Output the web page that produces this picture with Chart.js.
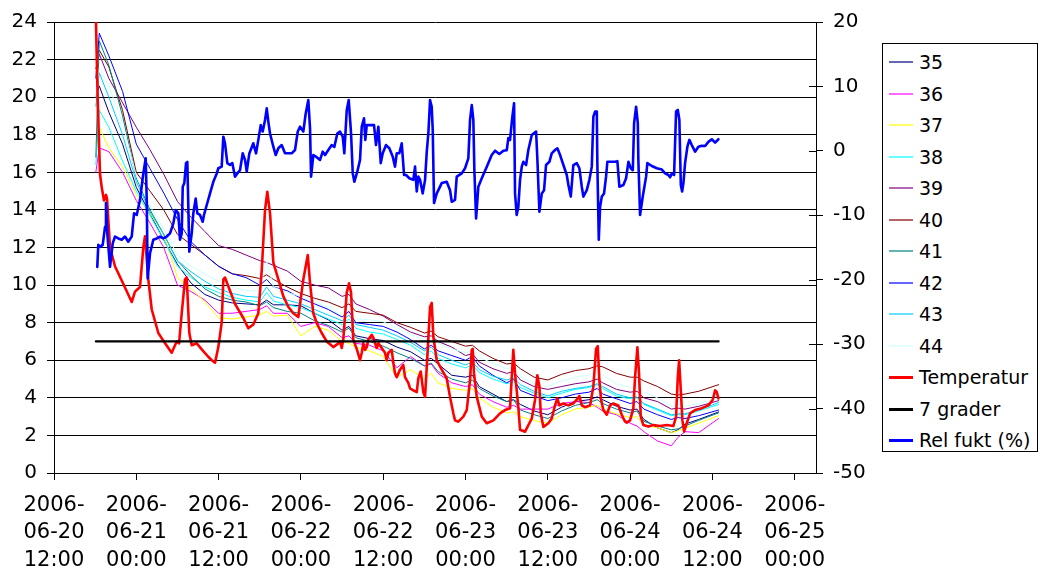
<!DOCTYPE html>
<html>
<head>
<meta charset="utf-8">
<script src="https://cdn.jsdelivr.net/npm/chart.js@4.4.1/dist/chart.umd.min.js"></script>
<style>
html,body{margin:0;padding:0;background:#fff;}
#wrap{position:relative;width:1040px;height:576px;overflow:hidden;}
#c{position:absolute;left:0;top:0;}
#legend{position:absolute;left:882px;top:43px;width:156px;height:409px;border:1px solid #000;box-sizing:border-box;background:#fff;font-family:'DejaVu Sans',sans-serif;font-size:19px;color:#000;}
.sw{position:absolute;left:6px;width:24px;height:2px;}
.lb{position:absolute;left:36px;white-space:nowrap;line-height:22px;height:22px;}
</style>
</head>
<body>
<div id="wrap">
<canvas id="c" width="1040" height="576"></canvas>
<div id="legend"></div>
</div>
<script>
// ---- categories / tick labels ----
const xTickHours = [0, 12, 24, 36, 48, 60, 72, 84, 96, 108];
const xTickLabels = [
  ['2006-', '06-20', '12:00'], ['2006-', '06-21', '00:00'], ['2006-', '06-21', '12:00'],
  ['2006-', '06-22', '00:00'], ['2006-', '06-22', '12:00'], ['2006-', '06-23', '00:00'],
  ['2006-', '06-23', '12:00'], ['2006-', '06-24', '00:00'], ['2006-', '06-24', '12:00'],
  ['2006-', '06-25', '00:00']
];
const seriesNames = ['35', '36', '37', '38', '39', '40', '41', '42', '43', '44', 'Temperatur', '7 grader', 'Rel fukt (%)'];
const seriesColors = ['#000080', '#FF00FF', '#FFFF00', '#00FFFF', '#800080', '#800000', '#008080', '#0000FF', '#00CCFF', '#CCFFFF', '#FF0000', '#000000', '#0000FF'];

// hours after 2006-06-20 12:00
const sensorHours = [6.1, 6.6, 8, 10, 12, 14, 16, 18, 20, 22, 24, 26, 28, 30, 31, 32, 34, 36, 38, 40, 42, 43, 44, 46, 48, 50, 52, 54, 55, 56, 58, 60, 61, 62, 64, 66, 67, 68, 70, 72, 74, 76, 78, 79.2, 80, 82, 84, 85, 86, 88, 90, 91, 92, 94, 96.9];

const s35 = [20.0, 20.6, 19.2, 17.5, 15.2, 13.8, 12.4, 11.1, 10.1, 9.5, 9.2, 9.05, 9.0, 8.95, 9.2, 8.95, 8.95, 8.9, 8.5, 8.15, 7.6, 7.8, 7.3, 7.15, 7.05, 6.7, 6.45, 6.0, 6.1, 5.8, 5.2, 5.1, 5.2, 4.6, 4.2, 3.8, 3.9, 3.65, 3.3, 3.1, 3.5, 3.8, 3.9, 4.05, 3.9, 3.55, 3.35, 3.4, 2.85, 2.4, 2.15, 2.3, 2.6, 2.85, 3.25];
const s36 = [16.0, 17.3, 17.1, 16.0, 14.5, 13.3, 12.0, 10.0, 9.65, 9.2, 8.5, 8.5, 8.6, 8.7, 8.9, 8.5, 8.5, 7.8, 8.0, 7.8, 7.2, 7.3, 6.9, 6.8, 6.5, 5.6, 6.2, 5.7, 5.8, 5.3, 4.8, 4.6, 4.7, 4.2, 3.8, 3.5, 3.6, 3.4, 3.4, 3.4, 3.7, 3.8, 3.75, 3.5, 3.3, 3.1, 2.65, 2.5, 2.2, 1.7, 1.45, 1.9, 2.2, 2.15, 2.9];
const s37 = [17.5, 18.4, 17.3, 16.3, 14.8, 13.8, 12.7, 10.4, 9.8, 9.1, 8.25, 8.2, 8.3, 8.4, 8.6, 8.35, 8.4, 7.3, 7.8, 7.6, 7.0, 6.9, 6.7, 6.5, 6.2, 5.1, 5.5, 5.0, 5.3, 4.8, 4.5, 4.4, 4.5, 4.0, 3.5, 3.2, 3.25, 3.0, 2.8, 2.65, 3.1, 3.4, 3.5, 3.6, 3.4, 3.15, 2.95, 3.0, 2.55, 2.4, 2.15, 2.25, 2.4, 2.65, 3.05];
const s38 = [16.4, 19.3, 18.4, 16.6, 15.0, 13.7, 12.4, 11.0, 10.4, 9.9, 9.6, 9.35, 9.2, 9.1, 9.6, 9.15, 8.95, 8.8, 8.5, 8.2, 7.9, 8.2, 7.7, 7.5, 7.4, 7.1, 6.8, 6.3, 6.5, 6.1, 5.8, 5.6, 5.75, 5.35, 5.0, 4.75, 4.85, 4.55, 4.25, 4.0, 4.25, 4.45, 4.55, 4.7, 4.5, 4.1, 3.95, 4.0, 3.65, 3.35, 3.05, 3.1, 3.1, 3.3, 3.65];
const s39 = [21.5, 22.3, 21.0, 19.7, 18.4, 17.2, 15.9, 14.45, 13.6, 12.85, 12.1, 11.9, 11.6, 11.3, 11.2, 11.05, 10.75, 10.2, 10.0, 9.85, 9.4, 9.5, 9.0, 8.7, 8.35, 7.9, 7.5, 7.25, 7.3, 7.0, 6.7, 6.25, 6.35, 5.9, 5.55, 5.3, 5.4, 4.95, 4.6, 4.45, 4.6, 4.75, 4.85, 5.0, 4.8, 4.45, 4.3, 4.35, 4.0, 3.8, 3.4, 3.45, 3.4, 3.55, 3.85];
const s40 = [22.0, 22.5, 21.6, 19.3, 16.0, 15.0, 14.0, 12.7, 12.15, 11.6, 11.0, 10.6, 10.5, 10.35, 10.55, 10.3, 9.9, 9.55, 9.3, 9.1, 8.8, 9.0, 8.6, 8.5, 8.4, 8.0, 7.75, 7.45, 7.55, 7.25, 7.0, 6.75, 6.8, 6.5, 6.1, 5.8, 5.85, 5.55, 5.1, 4.95, 5.25, 5.45, 5.55, 5.7, 5.65, 5.3, 5.1, 5.1, 4.9, 4.6, 4.2, 4.15, 4.2, 4.35, 4.7];
const s41 = [16.8, 23.0, 21.7, 19.0, 15.7, 14.0, 12.7, 11.3, 10.5, 9.8, 9.4, 9.2, 9.1, 8.9, 9.1, 8.8, 8.6, 8.5, 8.1, 7.85, 7.5, 7.7, 7.2, 7.0, 6.75, 6.4, 6.1, 5.7, 5.85, 5.4, 5.0, 4.8, 4.95, 4.5, 4.1, 3.8, 3.9, 3.35, 3.1, 2.9, 3.3, 3.6, 3.75, 3.9, 3.7, 3.4, 3.2, 3.3, 2.75, 2.5, 2.3, 2.35, 2.5, 2.8, 3.2];
const s42 = [21.0, 23.4, 22.2, 20.3, 17.5, 16.2, 14.9, 13.5, 12.3, 11.6, 11.0, 10.6, 10.4, 10.0, 10.3, 9.9, 9.7, 9.3, 9.0, 8.7, 8.3, 8.6, 8.0, 7.9, 7.8, 7.5, 7.1, 6.6, 6.8, 6.5, 6.25, 6.0, 6.2, 5.7, 5.2, 4.8, 5.0, 4.4, 4.1, 3.85, 4.0, 4.2, 4.3, 4.5, 4.2, 3.95, 3.7, 3.8, 3.4, 3.1, 2.85, 2.95, 2.9, 3.05, 3.35];
const s43 = [19.5, 21.3, 20.0, 18.0, 15.5, 13.9, 12.7, 11.3, 10.7, 10.2, 9.8, 9.55, 9.4, 9.35, 9.9, 9.4, 9.2, 9.0, 8.7, 8.4, 8.1, 8.4, 7.9, 7.75, 7.6, 7.3, 6.95, 6.5, 6.7, 6.3, 6.0, 5.75, 5.9, 5.5, 5.15, 4.95, 5.05, 4.7, 4.35, 4.1, 4.35, 4.5, 4.6, 4.75, 4.6, 4.2, 4.0, 4.05, 3.7, 3.4, 3.1, 3.15, 3.15, 3.35, 3.75];
const s44 = [20.0, 21.6, 20.6, 18.6, 15.8, 14.2, 13.0, 11.6, 11.0, 10.6, 10.2, 9.9, 9.7, 9.7, 11.3, 9.9, 9.6, 9.4, 9.1, 8.8, 8.4, 8.9, 8.2, 8.15, 8.05, 7.7, 7.4, 7.05, 7.2, 6.9, 6.6, 6.4, 6.5, 6.15, 5.85, 5.55, 5.65, 5.1, 4.75, 4.6, 4.9, 5.1, 5.2, 5.3, 5.2, 4.75, 4.55, 4.6, 4.3, 4.0, 3.55, 3.6, 3.55, 3.7, 3.95];

const tempHours = [6.12, 6.37, 6.71, 6.96, 7.29, 7.58, 7.73, 8.17, 8.89, 10.06,
  11.33, 11.81, 12.54, 13.02, 13.27, 13.75, 14.25, 15.21, 16.19, 17.16,
  17.89, 18.23, 18.62, 19.1, 19.35, 19.73, 20.08, 20.81, 21.73, 22.46,
  23.0, 23.48, 23.96, 24.45, 24.69, 24.93, 25.66, 26.39, 27.6, 28.33,
  29.06, 29.79, 30.29, 30.77, 31.1, 31.5, 31.98, 32.71, 33.44, 34.16,
  34.89, 35.62, 36.35, 37.0, 37.33, 37.81, 38.31, 39.03, 39.76, 40.73,
  41.46, 41.7, 41.95, 42.18, 42.68, 43.02, 43.31, 43.64, 44.14, 44.62,
  44.87, 45.1, 45.35, 45.6, 45.83, 46.33, 46.56, 47.05, 47.29, 47.78,
  48.26, 48.51, 48.75, 49.24, 49.48, 49.72, 49.97, 50.45, 50.93, 51.18,
  51.66, 51.91, 52.39, 52.89, 53.12, 53.47, 53.85, 54.1, 54.49, 54.83,
  55.07, 55.31, 55.8, 56.53, 57.26, 57.74, 58.23, 58.47, 58.95, 59.68,
  60.18, 60.66, 60.91, 61.05, 61.24, 61.64, 62.37, 63.09, 64.06, 65.03,
  65.76, 66.49, 66.74, 66.97, 67.22, 67.7, 67.95, 68.68, 69.66, 70.14,
  70.47, 70.77, 70.97, 71.35, 72.08, 72.57, 73.05, 73.39, 73.68, 74.27,
  74.99, 75.72, 76.22, 76.6, 76.95, 77.43, 78.16, 78.64, 79.03, 79.28,
  79.51, 79.76, 80.1, 80.59, 81.07, 81.55, 82.28, 82.78, 83.26, 83.51,
  83.99, 84.47, 84.72, 85.06, 85.3, 85.55, 85.93, 86.66, 87.39, 88.36,
  89.34, 90.3, 90.7, 90.95, 91.14, 91.39, 91.62, 91.87, 92.26, 92.74,
  93.47, 94.45, 95.41, 96.05, 96.39, 96.64, 96.87];
const tempValues = [24.0, 19.9, 15.9, 15.2, 14.5, 14.8, 14.6, 12.0, 11.0, 10.1,
  9.1, 9.65, 9.9, 12.0, 12.6, 10.3, 8.7, 7.45, 6.9, 6.4,
  7.0, 6.9, 8.5, 10.3, 10.4, 7.45, 6.8, 6.9, 6.5, 6.2,
  6.0, 5.87, 6.7, 8.0, 10.3, 10.4, 9.7, 9.0, 8.25, 7.7,
  7.9, 8.5, 10.8, 14.0, 14.97, 13.8, 11.2, 10.3, 9.4, 8.85,
  8.5, 8.3, 10.3, 11.6, 10.1, 8.5, 7.97, 7.45, 7.0, 6.7,
  6.9, 7.0, 6.65, 7.1, 9.6, 10.1, 9.6, 7.1, 6.6, 6.0,
  6.4, 6.9, 6.55, 6.7, 7.1, 7.35, 7.2, 6.65, 6.9, 6.65,
  6.4, 6.0, 6.4, 6.55, 5.85, 5.3, 5.1, 5.5, 5.75, 5.1,
  4.8, 4.5, 4.4, 4.3, 5.05, 5.4, 4.3, 4.05, 6.55, 8.85,
  9.05, 7.25, 6.0, 5.5, 5.03, 4.05, 3.17, 2.8, 2.73, 3.0,
  3.35, 4.95, 6.55, 6.6, 5.3, 4.05, 3.0, 2.65, 2.8, 3.17,
  3.35, 3.45, 5.1, 6.55, 5.3, 3.5, 2.3, 2.2, 2.9, 3.9,
  5.2, 4.6, 3.17, 2.45, 2.65, 2.9, 3.6, 3.97, 3.6, 3.7,
  3.6, 3.7, 3.9, 4.1, 3.6, 3.5, 3.6, 4.6, 6.6, 6.75,
  4.95, 3.9, 3.35, 3.1, 3.6, 3.7, 3.6, 3.1, 2.73, 2.68,
  2.8, 3.44, 5.1, 6.69, 5.3, 3.0, 2.55, 2.47, 2.55, 2.5,
  2.55, 2.5, 3.0, 5.1, 6.0, 4.4, 2.8, 2.2, 2.65, 3.17,
  3.35, 3.45, 3.6, 3.9, 4.4, 4.3, 3.97];

const refHours = [6.1, 96.9];
const refValues = [7, 7];

const humHours = [6.31, 6.46, 6.71, 7.1, 7.44, 7.58, 7.77, 8.17, 8.56, 8.89,
  9.38, 9.87, 10.35, 10.83, 11.33, 11.67, 12.06, 12.54, 13.02, 13.37,
  13.52, 13.66, 14.0, 14.48, 14.98, 15.46, 15.94, 16.43, 16.92, 17.4,
  17.75, 18.13, 18.37, 18.62, 18.77, 19.0, 19.25, 19.44, 19.73, 20.08,
  20.31, 20.66, 20.9, 21.29, 21.68, 21.87, 22.27, 22.75, 23.23, 23.73,
  23.96, 24.45, 24.69, 24.93, 25.27, 25.66, 26.0, 26.39, 26.73, 27.12,
  27.52, 27.85, 28.1, 28.48, 29.06, 29.46, 29.79, 30.14, 30.43, 30.77,
  31.02, 31.25, 31.5, 31.98, 32.33, 32.71, 33.2, 33.68, 34.17, 34.66,
  35.14, 35.54, 35.87, 36.35, 36.7, 37.08, 37.33, 37.48, 37.81, 38.2,
  38.79, 39.18, 39.52, 40.0, 40.49, 40.87, 41.31, 41.7, 42.1, 42.33,
  42.68, 42.97, 43.31, 43.56, 43.79, 44.23, 44.62, 44.87, 45.2, 45.39,
  45.6, 46.08, 46.66, 46.95, 47.29, 47.64, 47.93, 48.41, 48.89, 49.39,
  49.72, 49.97, 50.35, 50.7, 51.04, 51.33, 51.81, 52.39, 52.64, 52.89,
  53.12, 53.37, 53.76, 54.1, 54.35, 54.58, 54.83, 55.07, 55.22, 55.41,
  55.81, 56.04, 56.53, 57.26, 57.74, 57.99, 58.47, 58.72, 59.45, 59.93,
  60.41, 60.66, 60.91, 61.14, 61.29, 61.54, 61.87, 62.37, 63.1, 63.82,
  64.31, 64.93, 65.52, 66.01, 66.25, 66.49, 66.83, 67.08, 67.22, 67.46,
  67.7, 67.95, 68.2, 68.43, 68.83, 69.16, 69.66, 70.29, 70.48, 70.77,
  71.12, 71.45, 71.74, 72.23, 72.57, 73.05, 73.39, 73.79, 74.27, 74.76,
  75.0, 75.35, 75.72, 76.22, 76.6, 76.95, 77.18, 77.68, 78.06, 78.41,
  78.64, 78.89, 79.14, 79.22, 79.43, 79.62, 79.87, 80.2, 80.49, 80.68,
  81.32, 81.81, 82.14, 82.43, 83.02, 83.41, 83.75, 84.09, 84.39, 84.58,
  84.87, 85.12, 85.2, 85.45, 85.84, 86.08, 86.33, 86.51, 87.16, 87.89,
  88.62, 89.1, 89.58, 89.83, 90.07, 90.41, 90.7, 90.95, 91.18, 91.39,
  91.58, 91.77, 92.01, 92.35, 92.64, 92.99, 93.47, 93.95, 94.45, 94.93,
  95.41, 95.91, 96.39, 96.87];
const humValues = [-18.0, -14.6, -14.9, -14.6, -11.8, -8.1, -12.8, -18.0, -14.35, -13.3,
  -13.6, -13.8, -13.3, -14.1, -13.3, -9.7, -9.95, -7.6, -3.5, -1.16,
  -7.6, -19.8, -15.9, -13.8, -13.6, -13.3, -13.6, -13.3, -12.8, -11.25,
  -9.2, -9.7, -13.8, -12.8, -5.56, -5.0, -1.9, -1.7, -15.65, -12.8,
  -9.7, -7.4, -9.7, -9.95, -11.0, -9.95, -8.4, -6.6, -4.8, -3.5,
  -2.7, -2.45, 2.2, 1.17, -1.9, -2.2, -1.9, -4.0, -3.5, -3.0,
  -0.38, -1.4, -3.2, -0.4, 1.17, -0.38, 1.7, 4.0, 3.0, 4.8,
  6.6, 4.5, 2.7, 0.64, -0.65, 0.4, 0.9, -0.38, -0.38, -0.38,
  0.13, 3.0, 3.75, 3.0, 5.8, 7.9, 3.5, -4.0, -0.65, -0.9,
  -1.4, -0.13, -0.65, 0.13, 0.9, 0.6, 2.7, 3.0, 2.2, -0.38,
  6.3, 7.9, 2.7, -3.5, -4.8, -3.2, -1.4, 3.75, 5.05, 1.7,
  4.0, 4.0, 4.0, 0.9, 3.75, -1.9, -0.38, 0.9, 0.4, -0.9,
  -2.45, -0.38, -0.38, 1.17, -3.75, -3.75, -4.25, -4.5, -2.45, -6.3,
  -4.0, -4.5, -6.6, -4.5, -0.13, 2.7, 7.9, 6.85, 3.2, -8.1,
  -6.6, -6.1, -5.0, -4.8, -6.1, -7.9, -7.6, -4.0, -3.5, -2.7,
  -1.16, 4.8, 7.1, 4.8, -3.0, -10.5, -5.56, -4.25, -2.45, -0.65,
  0.02, -0.49, 0.02, 0.1, 2.0, 1.7, 5.3, 7.4, -6.6, -9.95,
  -8.7, -4.5, -2.45, -1.7, -2.2, 0.13, 2.45, 3.0, -1.4, -9.45,
  -6.6, -6.1, -2.2, -1.7, -0.38, 0.13, 0.4, -0.65, -2.2, -3.75,
  -5.3, -7.1, -2.2, -1.9, -2.7, -5.56, -7.1, -6.1, -4.5, -2.45,
  5.3, 6.1, 6.1, -1.9, -13.8, -8.7, -7.1, -6.6, -4.0, -1.7,
  -1.7, -1.7, -1.6, -5.56, -5.3, -4.25, -1.7, -2.7, -3.0, 4.3,
  6.85, 4.3, -1.4, -9.95, -7.1, -5.56, -4.0, -1.9, -2.35, -2.7,
  -2.9, -3.5, -3.75, -4.1, -3.5, -3.75, 6.1, 6.35, 4.8, -5.3,
  -6.3, -5.0, -1.9, 0.64, 1.7, 0.9, -0.13, 0.64, 0.8, 0.75,
  1.4, 1.8, 1.28, 1.8];

// ---- build chart ----
const FONT = "'DejaVu Sans', sans-serif";
const toXY = (hs, vs) => hs.map((h, i) => ({x: h, y: vs[i]}));
const sensorValues = [s35, s36, s37, s38, s39, s40, s41, s42, s43, s44];

const datasets = [];
datasets.push({label: seriesNames[12], data: toXY(humHours, humValues), yAxisID: 'y2', borderColor: seriesColors[12], borderWidth: 2.6, order: 0});
datasets.push({label: seriesNames[11], data: toXY(refHours, refValues), yAxisID: 'y', borderColor: seriesColors[11], borderWidth: 2.2, order: 1});
datasets.push({label: seriesNames[10], data: toXY(tempHours, tempValues), yAxisID: 'y', borderColor: seriesColors[10], borderWidth: 2.6, order: 2});
sensorValues.forEach((vals, i) => {
  datasets.push({label: seriesNames[i], data: toXY(sensorHours, vals), yAxisID: 'y', borderColor: seriesColors[i], borderWidth: 1, order: 12 - i});
});

const crossTicks = {
  id: 'crossTicks',
  afterDraw(chart) {
    const s = chart.scales.y2, c = chart.ctx;
    c.save(); c.strokeStyle = '#000'; c.lineWidth = 1;
    s.ticks.forEach(t => {
      const y = Math.round(s.getPixelForValue(t.value)) + 0.5;
      c.beginPath(); c.moveTo(s.left - 7, y); c.lineTo(s.left, y); c.stroke();
    });
    c.restore();
  }
};

new Chart(document.getElementById('c'), {
  type: 'line',
  data: {datasets},
  plugins: [crossTicks],
  options: {
    responsive: false, animation: false, devicePixelRatio: 1, events: [],
    layout: {padding: {top: 22, left: 0, right: 0, bottom: 0}},
    elements: {point: {radius: 0}, line: {tension: 0, borderJoinStyle: 'round', borderCapStyle: 'round', fill: false}},
    plugins: {legend: {display: false}, tooltip: {enabled: false}, title: {display: false}},
    scales: {
      x: {
        type: 'linear', min: 0, max: 111.1, position: 'bottom',
        afterBuildTicks: s => { s.ticks = xTickHours.map(v => ({value: v})); },
        afterFit: s => { s.height = 103; },
        ticks: {autoSkip: false, maxRotation: 0, minRotation: 0, padding: 12, color: '#000',
          font: {family: FONT, size: 21, lineHeight: 1.3},
          callback: (v, i) => xTickLabels[i]},
        grid: {drawOnChartArea: false, drawTicks: true, tickLength: 7, color: '#000'},
        border: {display: true, color: '#000', width: 1}
      },
      y: {
        type: 'linear', position: 'left', min: 0, max: 24,
        afterFit: s => { s.width = 54; },
        ticks: {stepSize: 2, padding: 10, color: '#000', font: {family: FONT, size: 20}},
        grid: {color: '#000', lineWidth: 1, tickLength: 7, drawTicks: true},
        border: {display: true, color: '#000', width: 1}
      },
      y2: {
        type: 'linear', position: 'right', min: -50, max: 20,
        afterFit: s => { s.width = 224; },
        ticks: {stepSize: 10, padding: 10, color: '#000', font: {family: FONT, size: 20}},
        grid: {drawOnChartArea: false, color: '#000', tickLength: 7, drawTicks: true},
        border: {display: true, color: '#000', width: 1}
      }
    }
  }
});

// ---- legend (HTML, real text) ----
const lg = document.getElementById('legend');
seriesNames.forEach((name, i) => {
  const cy = 62 + i * 31.5 - 44;
  const sw = document.createElement('div');
  sw.className = 'sw';
  sw.style.top = (cy - 1) + 'px';
  sw.style.background = seriesColors[i];
  if (i < 10) sw.style.opacity = '0.6';
  else sw.style.height = '3px';
  lg.appendChild(sw);
  const lb = document.createElement('div');
  lb.className = 'lb';
  lb.style.top = (cy - 11) + 'px';
  lb.textContent = name;
  lg.appendChild(lb);
});
</script>
</body>
</html>
